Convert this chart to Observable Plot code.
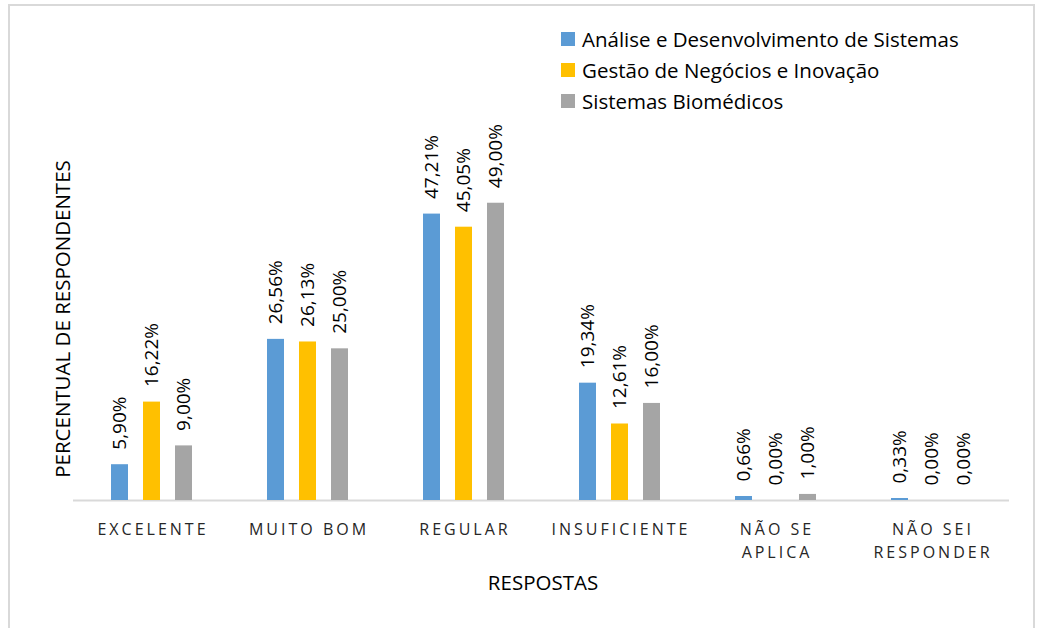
<!DOCTYPE html>
<html><head><meta charset="utf-8">
<script src="https://cdn.jsdelivr.net/npm/d3@7"></script>
<script src="https://cdn.jsdelivr.net/npm/@observablehq/plot@0.6"></script>
<style>
body{margin:0;background:#fff;font-family:"Open Sans",sans-serif;}
#wrap{position:relative;width:1040px;height:628px;overflow:hidden;background:#fff;}
#frame{position:absolute;left:8px;top:4px;width:1027px;height:700px;border:2px solid #d9d9d9;box-sizing:border-box;}
#chart{position:absolute;left:0;top:0;}
#legend{position:absolute;left:561px;top:23px;}
.lg{display:flex;align-items:center;height:31px;font-size:20.5px;color:#000;white-space:nowrap;}
.sw{width:14px;height:14px;margin-right:7px;}
#ytitle{position:absolute;left:62px;top:319px;transform:translate(-50%,-50%) rotate(-90deg);font-size:20.5px;white-space:nowrap;color:#000;}
#xtitle{position:absolute;left:543px;top:582px;transform:translate(-50%,-50%);font-size:20.5px;white-space:nowrap;color:#000;}
g[aria-label="fx-axis tick label"] text{letter-spacing:3px;}
</style>
</head><body>
<div id="wrap">
<div id="frame"></div>
<div id="chart"></div>
<div id="legend"></div>
<div id="ytitle">PERCENTUAL DE RESPONDENTES</div>
<div id="xtitle">RESPOSTAS</div>
</div>
<script>
const categories = ["EXCELENTE","MUITO BOM","REGULAR","INSUFICIENTE","NÃO SE APLICA","NÃO SEI RESPONDER"];
const tickLabels = ["EXCELENTE","MUITO BOM","REGULAR","INSUFICIENTE","NÃO SE\nAPLICA","NÃO SEI\nRESPONDER"];
const series = ["Análise e Desenvolvimento de Sistemas","Gestão de Negócios e Inovação","Sistemas Biomédicos"];
const adsValues = [5.90,26.56,47.21,19.34,0.66,0.33];
const gniValues = [16.22,26.13,45.05,12.61,0.00,0.00];
const sbValues = [9.00,25.00,49.00,16.00,1.00,0.00];
const colors = ["#5B9BD5","#FFC000","#A5A5A5"];

const valueSets = [adsValues, gniValues, sbValues];
const rows = [];
categories.forEach((c,i)=>{
  series.forEach((s,j)=>{ rows.push({cat:c, series:s, value:valueSets[j][i]}); });
});
const fmt = v => v.toFixed(2).replace(".", ",") + "%";

const chart = Plot.plot({
  width:1040, height:628,
  marginLeft:73, marginRight:31, marginTop:136, marginBottom:128,
  style:{fontFamily:"Open Sans", background:"transparent", overflow:"visible"},
  fx:{domain:categories, padding:0, label:null},
  x:{domain:series, paddingInner:0.469, paddingOuter:1.167, axis:null},
  y:{domain:[0,60], axis:null},
  color:{domain:series, range:colors},
  marks:[
    Plot.ruleY([0], {stroke:"#d9d9d9", strokeWidth:2}),
    Plot.barY(rows, {fx:"cat", x:"series", y:"value", fill:"series"}),
    Plot.text(rows, {fx:"cat", x:"series", y:"value", text:d=>fmt(d.value), rotate:-90, textAnchor:"start", dy:-15, fontSize:19, fill:"#000"}),
    Plot.axisFx({anchor:"bottom", tickSize:0, tickPadding:18, fontSize:16, lineHeight:1.45, fill:"#262626", dx:1.5, label:null,
      tickFormat:d=>tickLabels[categories.indexOf(d)]})
  ]
});
document.getElementById("chart").appendChild(chart);

const lg = document.getElementById("legend");
series.forEach((s,j)=>{
  const r = document.createElement("div"); r.className="lg";
  const sw = document.createElement("div"); sw.className="sw"; sw.style.background=colors[j];
  const t = document.createElement("span"); t.textContent=s;
  r.appendChild(sw); r.appendChild(t); lg.appendChild(r);
});
</script>
</body></html>
